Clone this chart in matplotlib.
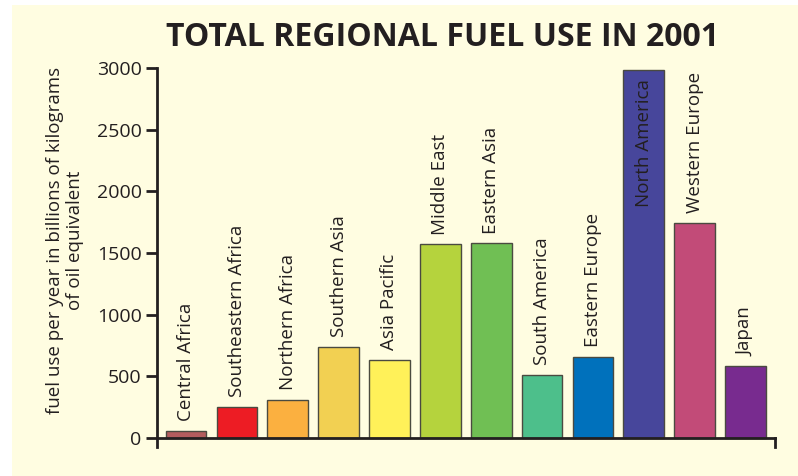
import matplotlib.pyplot as plt
import numpy as np

regions = ['Central Africa', 'Southeastern Africa', 'Northern Africa', 'Southern Asia',
           'Asia Pacific', 'Middle East', 'Eastern Asia', 'South America',
           'Eastern Europe', 'North America', 'Western Europe', 'Japan']
fuel_use = [60, 250, 310, 740, 632, 1571, 1579, 511, 659, 2985, 1744, 584]
bar_colors = ['#b35c5e', '#ed1c24', '#fbb040', '#f2d052', '#fff159', '#b5d33d',
              '#70bf54', '#4dbf8b', '#0071bc', '#47469b', '#c24b78', '#782b8f']
yticks = [0, 500, 1000, 1500, 2000, 2500, 3000]

ink = '#231f20'
cream = '#fffde1'

plt.rcParams['font.family'] = ['Open Sans', 'DejaVu Sans']

fig = plt.figure(figsize=(7.98, 4.76), dpi=100)
fig.patch.set_facecolor('white')
# cream panel, white strip on left and top
fig.patches.append(plt.Rectangle((12/798, 0), 1, 1 - 5/476, transform=fig.transFigure,
                                 facecolor=cream, edgecolor='none', zorder=-10))

ax = fig.add_axes([157/798, 1 - 447/476, 618/798, 379/476])
ax.set_facecolor('none')

x = np.arange(len(regions))
bars = ax.bar(x, fuel_use, width=0.8, color=bar_colors, edgecolor='#4a4a40', linewidth=1.0, zorder=2)

ax.set_xlim(-0.57, 11.58)
ax.set_ylim(-73, 3000)

ax.spines['top'].set_visible(False)
ax.spines['bottom'].set_position(('data', 0))
ax.spines['right'].set_bounds(-73, 0)
for sp in ['left', 'bottom', 'right']:
    ax.spines[sp].set_linewidth(2.0)
    ax.spines[sp].set_color(ink)
    ax.spines[sp].set_zorder(3)

ax.set_xticks([])
ax.set_yticks(yticks)
ax.tick_params(axis='y', length=8, width=2.0, color=ink, labelsize=14, labelcolor=ink, pad=3)

# y label as figure text so it sits where the original has it
fig.text(65/798, 1 - 240/476, 'fuel use per year in billions of kilograms\nof oil equivalent',
         rotation=90, ha='center', va='center', multialignment='center',
         fontsize=13.5, color=ink, linespacing=1.15)

for xi, val, name in zip(x, fuel_use, regions):
    if name == 'North America':
        ax.annotate(name, (xi, val), xytext=(0, -7), textcoords='offset points',
                    rotation=90, ha='center', va='top', fontsize=13.5, color=ink)
    else:
        ax.annotate(name, (xi, val), xytext=(0, 7), textcoords='offset points',
                    rotation=90, ha='center', va='bottom', fontsize=13.5, color=ink)

fig.text(442/798, 1 - 37/476, 'TOTAL REGIONAL FUEL USE IN 2001', ha='center', va='center',
         fontsize=23, fontweight='bold', color=ink)

fig.savefig('out.png', dpi=100)
